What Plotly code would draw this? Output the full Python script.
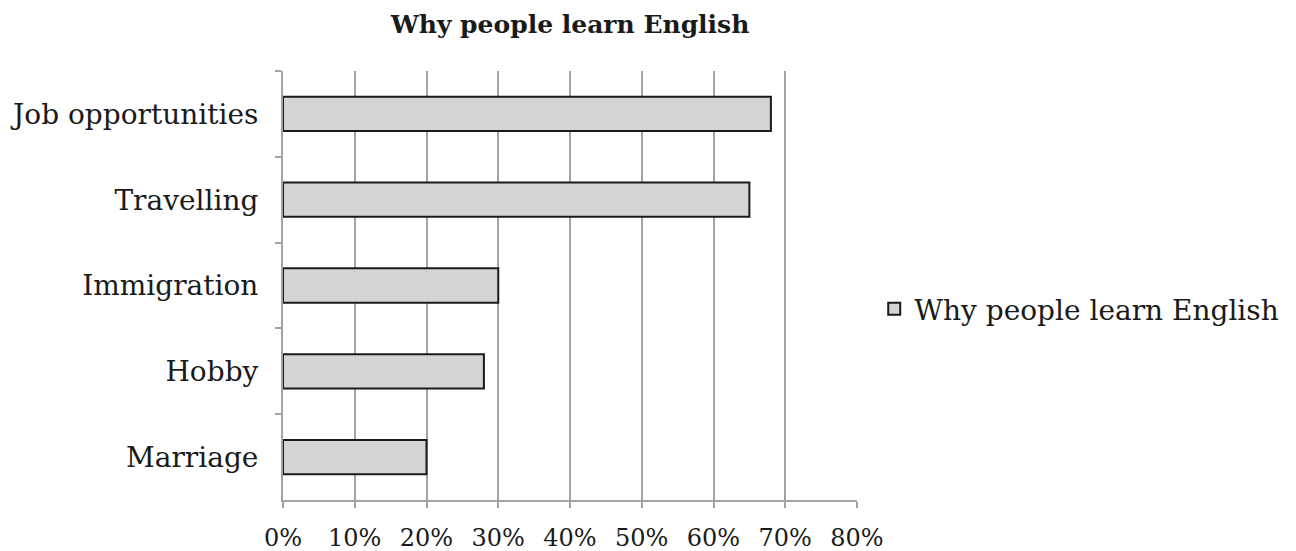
import plotly.graph_objects as go

categories = ["Job opportunities", "Travelling", "Immigration", "Hobby", "Marriage"]
values = [0.68, 0.65, 0.30, 0.28, 0.20]
series_name = "Why people learn English"
title_text = "Why people learn English"
x_ticks = [0, 0.1, 0.2, 0.3, 0.4, 0.5, 0.6, 0.7, 0.8]

FONT = "DejaVu Serif"
GRID = "#a3a3a5"

fig = go.Figure()
fig.add_trace(go.Bar(
    y=categories,
    x=values,
    orientation="h",
    name=series_name,
    showlegend=True,
    marker=dict(color="#d3d4d6", line=dict(color="#1a1a1a", width=2)),
))

fig.update_layout(
    width=1296,
    height=551,
    autosize=False,
    margin=dict(l=283, r=439, t=71, b=51),
    paper_bgcolor="white",
    plot_bgcolor="white",
    bargap=0.6,
    font=dict(family=FONT, color="#1a1a1a", size=24),
    title=dict(
        text="<b>" + title_text + "</b>",
        font=dict(family=FONT, size=25, color="#1a1a1a"),
        xref="paper", x=0.5, xanchor="center",
        yref="container", y=1 - 24 / 551, yanchor="middle",
    ),
    legend=dict(
        x=1.03, xanchor="left",
        y=0.445, yanchor="middle",
        font=dict(family=FONT, size=28, color="#1a1a1a"),
        bgcolor="rgba(0,0,0,0)",
        itemwidth=30,
    ),
    xaxis=dict(
        range=[0, 0.8],
        tickvals=x_ticks,
        tickformat=".0%",
        showgrid=True,
        gridcolor=GRID,
        gridwidth=2,
        zeroline=False,
        showline=True,
        linecolor=GRID,
        linewidth=2,
        ticks="outside",
        ticklen=6,
        tickwidth=2,
        tickcolor=GRID,
        tickfont=dict(family=FONT, size=24, color="#1a1a1a"),
        ticklabelstandoff=9,
        automargin=False,
        fixedrange=True,
    ),
    yaxis=dict(
        categoryorder="array",
        categoryarray=categories,
        autorange="reversed",
        showgrid=False,
        zeroline=False,
        showline=True,
        linecolor=GRID,
        linewidth=2,
        ticks="outside",
        tickson="boundaries",
        ticklen=6,
        tickwidth=2,
        tickcolor=GRID,
        tickfont=dict(family=FONT, size=28, color="#1a1a1a"),
        ticklabelstandoff=17,
        automargin=False,
        fixedrange=True,
    ),
)

fig.write_html("out.html")
